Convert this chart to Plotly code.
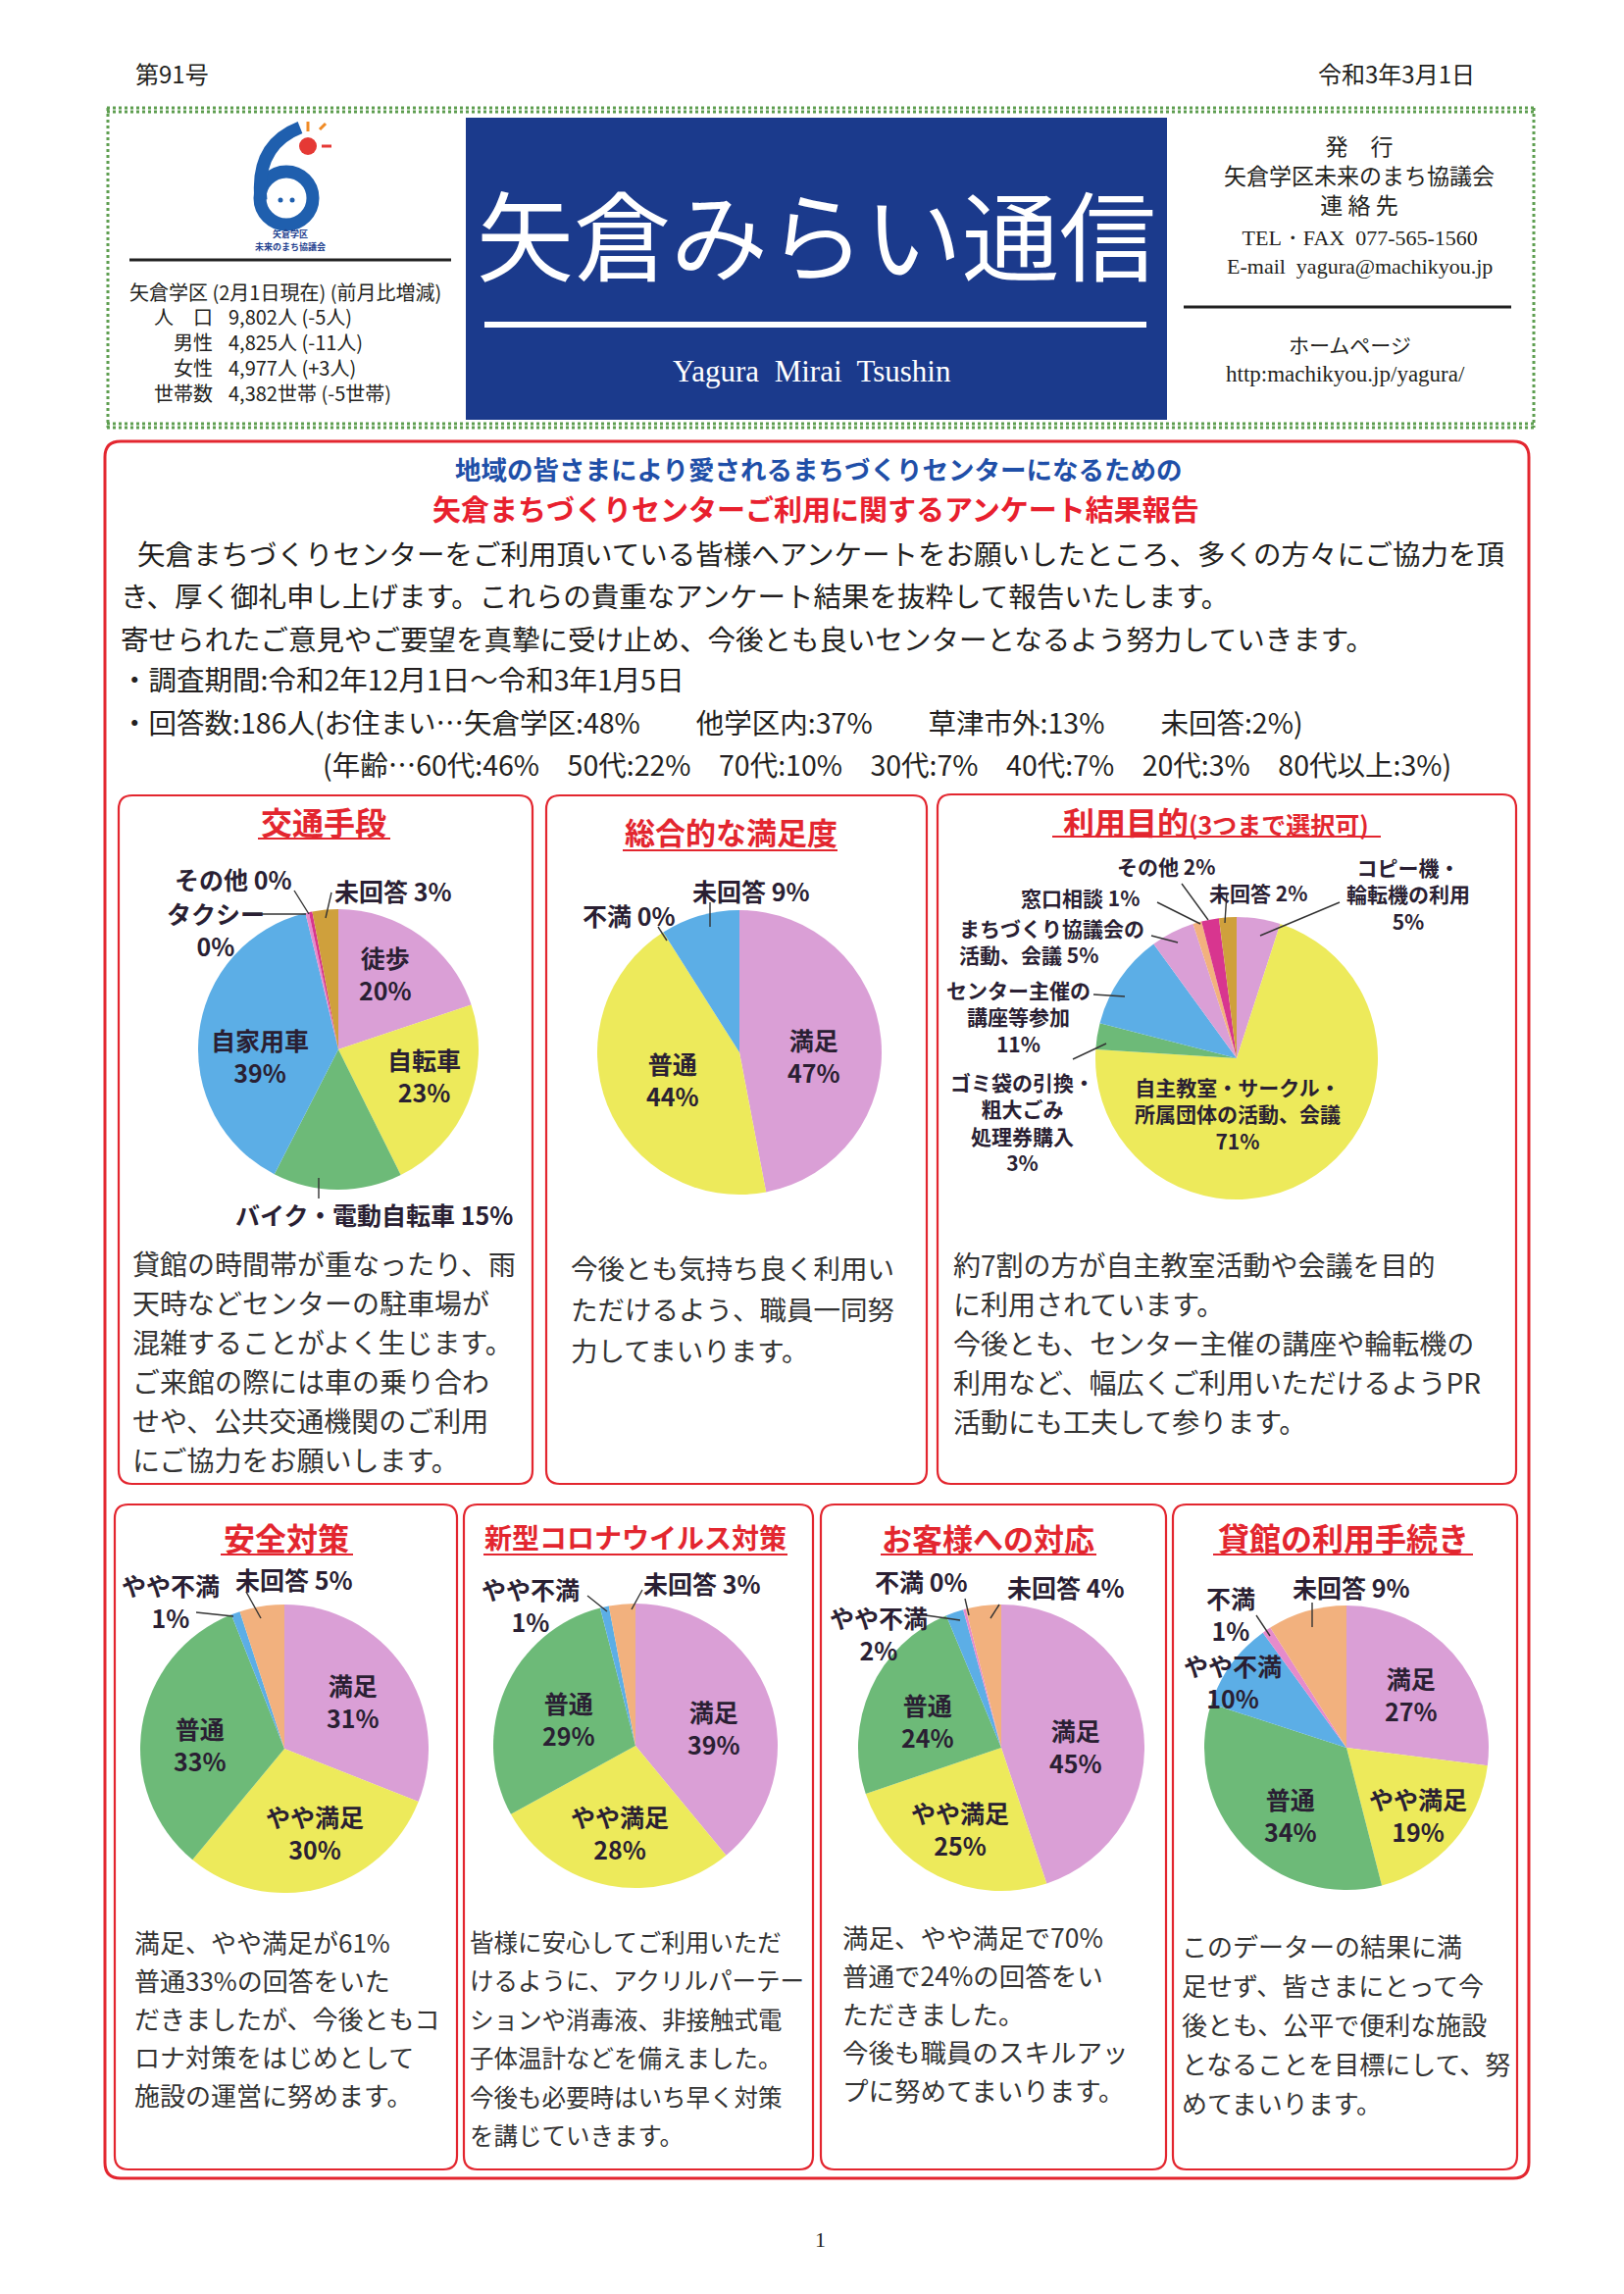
import plotly.graph_objects as go

W, H = 1656, 2339
FONT = "Noto Sans CJK JP"
SERIF = "Liberation Serif"
RED = "#E3262F"
NAVY = "#1B3A8C"
INK = "#231f20"
LBL = "#2a1f33"

PINK = "#DA9FD6"
YELLOW = "#EDEA5B"
GREEN = "#6DBA78"
BLUE = "#5CAEE6"
PEACH = "#F2B17E"
MAGENTA = "#D8358F"
GOLD = "#CFA03C"
LPINK = "#E58BCB"

# ---------------- data ----------------
transport_labels = ["徒歩", "自転車", "バイク・電動自転車", "自家用車", "タクシー", "その他", "未回答"]
transport_values = [20, 23, 15, 39, 0.4, 0.4, 3]
transport_colors = [PINK, YELLOW, GREEN, BLUE, LPINK, MAGENTA, GOLD]

overall_labels = ["満足", "普通", "不満", "未回答"]
overall_values = [47, 44, 0, 9]
overall_colors = [PINK, YELLOW, GREEN, BLUE]

purpose_labels = ["コピー機・\n輪転機の利用", "自主教室・サークル・\n所属団体の活動、会議",
                  "ゴミ袋の引換・\n粗大ごみ\n処理券購入", "センター主催の\n講座等参加",
                  "まちづくり協議会の\n活動、会議", "窓口相談", "その他", "未回答"]
purpose_values = [5, 71, 3, 11, 5, 1, 2, 2]
purpose_colors = [PINK, YELLOW, GREEN, BLUE, PINK, PEACH, MAGENTA, GOLD]

safety_labels = ["満足", "やや満足", "普通", "やや不満", "未回答"]
safety_values = [31, 30, 33, 1, 5]
safety_colors = [PINK, YELLOW, GREEN, BLUE, PEACH]

covid_labels = ["満足", "やや満足", "普通", "やや不満", "未回答"]
covid_values = [39, 28, 29, 1, 3]
covid_colors = [PINK, YELLOW, GREEN, BLUE, PEACH]

service_labels = ["満足", "やや満足", "普通", "やや不満", "不満", "未回答"]
service_values = [45, 25, 24, 2, 0.3, 4]
service_colors = [PINK, YELLOW, GREEN, BLUE, LPINK, PEACH]

rental_labels = ["満足", "やや満足", "普通", "やや不満", "不満", "未回答"]
rental_values = [27, 19, 34, 10, 1, 9]
rental_colors = [PINK, YELLOW, GREEN, BLUE, LPINK, PEACH]

stats_rows = ["人　口", "男性", "女性", "世帯数"]
stats_vals = ["9,802人 (-5人)", "4,825人 (-11人)", "4,977人 (+3人)", "4,382世帯 (-5世帯)"]

intro_lines = [
    "矢倉まちづくりセンターをご利用頂いている皆様へアンケートをお願いしたところ、多くの方々にご協力を頂",
    "き、厚く御礼申し上げます。これらの貴重なアンケート結果を抜粋して報告いたします。",
    "寄せられたご意見やご要望を真摯に受け止め、今後とも良いセンターとなるよう努力していきます。",
    "・調査期間:令和2年12月1日～令和3年1月5日",
    "・回答数:186人(お住まい…矢倉学区:48%　　他学区内:37%　　草津市外:13%　　未回答:2%)",
    "(年齢…60代:46%　50代:22%　70代:10%　30代:7%　40代:7%　20代:3%　80代以上:3%)",
]

body1 = ["貸館の時間帯が重なったり、雨", "天時などセンターの駐車場が", "混雑することがよく生じます。",
         "ご来館の際には車の乗り合わ", "せや、公共交通機関のご利用", "にご協力をお願いします。"]
body2 = ["今後とも気持ち良く利用い", "ただけるよう、職員一同努", "力してまいります。"]
body3 = ["約7割の方が自主教室活動や会議を目的", "に利用されています。", "今後とも、センター主催の講座や輪転機の",
         "利用など、幅広くご利用いただけるようPR", "活動にも工夫して参ります。"]
body4 = ["満足、やや満足が61%", "普通33%の回答をいた", "だきましたが、今後ともコ", "ロナ対策をはじめとして", "施設の運営に努めます。"]
body5 = ["皆様に安心してご利用いただ", "けるように、アクリルパーテー", "ションや消毒液、非接触式電",
         "子体温計などを備えました。", "今後も必要時はいち早く対策", "を講じていきます。"]
body6 = ["満足、やや満足で70%", "普通で24%の回答をい", "ただきました。", "今後も職員のスキルアッ", "プに努めてまいります。"]
body7 = ["このデーターの結果に満", "足せず、皆さまにとって今", "後とも、公平で便利な施設", "となることを目標にして、努", "めてまいります。"]

# ---------------- helpers ----------------
annotations = []
shapes = []


def P(x, y):
    return x / W, 1 - y / H


def txt(x, y, s, size, color=INK, anchor="center", bold=False, family=FONT):
    if bold:
        s = f"<b>{s}</b>"
    px_, py_ = P(x, y)
    annotations.append(dict(x=px_, y=py_, xref="paper", yref="paper", text=s, showarrow=False,
                            xanchor=anchor, yanchor="middle", borderpad=0,
                            align=anchor if anchor != "center" else "center",
                            font=dict(family=family, size=size, color=color)))


def line(x0, y0, x1, y1, color="#333", width=1.5, dash="solid"):
    a, b = P(x0, y0)
    c, d = P(x1, y1)
    shapes.append(dict(type="line", xref="paper", yref="paper", x0=a, y0=b, x1=c, y1=d,
                       line=dict(color=color, width=width, dash=dash)))


def rect(x0, y0, x1, y1, fill=None, color=None, width=0, dash="solid"):
    a, b = P(x0, y1)
    c, d = P(x1, y0)
    shapes.append(dict(type="rect", xref="paper", yref="paper", x0=a, y0=b, x1=c, y1=d,
                       fillcolor=fill if fill else "rgba(0,0,0,0)",
                       line=dict(color=color if color else "rgba(0,0,0,0)", width=width, dash=dash)))


def pt(x, y):
    a, b = P(x, y)
    return f"{a:.6f},{b:.6f}"


def rrect(x0, y0, x1, y1, r, color=RED, width=2.5):
    path = (f"M {pt(x0 + r, y0)} L {pt(x1 - r, y0)} Q {pt(x1, y0)} {pt(x1, y0 + r)} "
            f"L {pt(x1, y1 - r)} Q {pt(x1, y1)} {pt(x1 - r, y1)} L {pt(x0 + r, y1)} "
            f"Q {pt(x0, y1)} {pt(x0, y1 - r)} L {pt(x0, y0 + r)} Q {pt(x0, y0)} {pt(x0 + r, y0)} Z")
    shapes.append(dict(type="path", xref="paper", yref="paper", path=path,
                       line=dict(color=color, width=width), fillcolor="rgba(0,0,0,0)"))


def circle(cx, cy, r, fill=None, color=None, width=0):
    a, b = P(cx - r, cy + r)
    c, d = P(cx + r, cy - r)
    shapes.append(dict(type="circle", xref="paper", yref="paper", x0=a, y0=b, x1=c, y1=d,
                       fillcolor=fill if fill else "rgba(0,0,0,0)",
                       line=dict(color=color if color else "rgba(0,0,0,0)", width=width)))


fig = go.Figure()


def pie(labels, values, colors, cx, cy, r):
    fig.add_trace(go.Pie(
        labels=[l.replace("\n", "") for l in labels], values=values, sort=False,
        direction="clockwise", rotation=0, textinfo="none", hoverinfo="label+percent",
        marker=dict(colors=colors, line=dict(width=0)), showlegend=False,
        domain=dict(x=[(cx - r) / W, (cx + r) / W], y=[1 - (cy + r) / H, 1 - (cy - r) / H])))


def pie_labels(labels, values, spec, size=25):
    for lab, val, sp in zip(labels, values, spec):
        if sp is None:
            continue
        x, y, mode = sp[0], sp[1], sp[2]
        dy = sp[3] if len(sp) > 3 else size + 2
        anchor = sp[4] if len(sp) > 4 else "center"
        lines = lab.split("\n")
        pct = f"{round(val)}%"
        if mode == "i":
            lines[-1] = lines[-1] + " " + pct
        else:
            lines.append(pct)
        yc = y + (len(lines) - 1) * dy / 2
        txt(x, yc, "<br>".join(lines), size, color=LBL, anchor=anchor, bold=True)


# ---------------- page header ----------------
txt(167, 66, "第91号", 24)
txt(1416, 66, "令和3年3月1日", 24)

# green decorative border
for yy in (102, 106, 424, 428):
    line(101, yy, 1557, yy, color="#5E9E50", width=3, dash="dot")
line(102, 102, 102, 428, color="#5E9E50", width=3, dash="dot")
line(1556, 102, 1556, 428, color="#5E9E50", width=3, dash="dot")

# logo
circle(284, 194, 27, color="#1F5FAE", width=13)
shapes.append(dict(type="path", xref="paper", yref="paper",
                   path=f"M {pt(298, 122)} Q {pt(252, 140)} {pt(258, 196)}",
                   line=dict(color="#1F5FAE", width=13)))
circle(278, 196, 2.5, fill="#1F5FAE")
circle(290, 196, 2.5, fill="#1F5FAE")
circle(306, 141, 9, fill="#E53935")
line(306, 116, 306, 126, color="#F08A24", width=3)
line(318, 124, 324, 118, color="#F08A24", width=3)
line(320, 141, 330, 141, color="#E53935", width=3)
txt(288, 231, "<b>矢倉学区</b>", 9, color="#1F3F8F")
txt(288, 243, "<b>未来のまち協議会</b>", 9, color="#1F3F8F")
line(124, 257, 452, 257, color="#222", width=3)

txt(123, 289, "矢倉学区 (2月1日現在) (前月比増減)", 20, anchor="left")
txt(210, 353, "<br>".join(stats_rows), 20, anchor="right")
txt(224, 353, "<br>".join(stats_vals), 20, anchor="left")

# blue title block
rect(467, 112, 1182, 420, fill=NAVY)
txt(824, 228, "矢倉みらい通信", 99, color="white")
line(486, 323, 1161, 323, color="white", width=6)
txt(820, 370, "Yagura  Mirai  Tsushin", 31, color="white", family=SERIF)

# right block
txt(1378, 170, "発　行<br>矢倉学区未来のまち協議会<br>連 絡 先", 23)
txt(1378, 249, "TEL・FAX  077-565-1560<br>E-mail  yagura@machikyou.jp", 22, family=SERIF)
line(1199, 305, 1533, 305, color="#222", width=3)
txt(1368, 343, "ホームページ", 21)
txt(1364, 374, "http:machikyou.jp/yagura/", 23, family=SERIF)

# ---------------- main report ----------------
rrect(99, 442, 1551, 2213, 16, width=3)
txt(826, 469, "地域の皆さまにより愛されるまちづくりセンターになるための", 26.5, color="#1F4FA8", bold=True)
txt(824, 510, "矢倉まちづくりセンターご利用に関するアンケート結果報告", 29, color="#E8202E", bold=True)

intro_x = [131, 114, 114, 114, 114, 320]
intro_y = [555, 598, 642, 684, 727, 770]
for s, x, y in zip(intro_lines, intro_x, intro_y):
    txt(x, y, s, 28.5, anchor="left")

# panels
panels = [
    (113, 803, 535, 1505), (549, 803, 937, 1505), (948, 802, 1538, 1505),
    (109, 1526, 458, 2204), (465, 1526, 821, 2204), (829, 1526, 1181, 2204), (1188, 1526, 1539, 2204),
]
for p in panels:
    rrect(*p, 14, width=2.2)

titles = [
    ("交通手段", 322, 829, 32, 255, 390, 847),
    ("総合的な満足度", 737, 840, 31, 627, 846, 859),
    ("新型コロナウイルス対策", 640, 1559, 28, 485, 795, 1577),
    ("安全対策", 284, 1559, 32, 217, 352, 1577),
    ("お客様への対応", 999, 1559, 31, 890, 1110, 1577),
    ("貸館の利用手続き", 1362, 1559, 32, 1229, 1494, 1577),
]
for t, x, y, s, u0, u1, uy in titles:
    txt(x, y, t, s, color=RED, bold=True)
    line(u0, uy, u1, uy, color=RED, width=2.2)
txt(1232, 829, "利用目的<span style='font-size:25px'>(3つまで選択可)</span>", 32, color=RED, bold=True)
line(1065, 845, 1400, 845, color=RED, width=2.2)

# ---------------- pies ----------------
pie(transport_labels, transport_values, transport_colors, 337, 1062, 143)
pie(overall_labels, overall_values, overall_colors, 746, 1065, 145)
pie(purpose_labels, purpose_values, purpose_colors, 1253, 1071, 144)
pie(safety_labels, safety_values, safety_colors, 282, 1775, 147)
pie(covid_labels, covid_values, covid_colors, 640, 1772, 145)
pie(service_labels, service_values, service_colors, 1013, 1774, 146)
pie(rental_labels, rental_values, rental_colors, 1365, 1774, 145)

pie_labels(transport_labels, transport_values, [
    (385, 971, "s", 26), (425, 1072, "s", 34), (373, 1230, "i"), (257, 1056, "s", 26),
    (212, 925, "s", 28), (230, 888, "i"), (393, 900, "i")])
pie_labels(overall_labels, overall_values, [
    (822, 1056, "s", 26), (678, 1079, "s", 26), (633, 925, "i"), (758, 900, "i")])
pie_labels(purpose_labels, purpose_values, [
    (1428, 877, "s", 27), (1254, 1102, "s", 25), (1034, 1095, "s", 27), (1030, 1002, "s", 26),
    (969, 939, "i", 25, "left"), (1093, 907, "i"), (1181, 875, "i"), (1275, 902, "i")], size=21)
pie_labels(safety_labels, safety_values, [
    (352, 1713, "s", 27), (313, 1847, "s", 27), (196, 1758, "s", 25), (166, 1610, "s", 29), (292, 1602, "i")])
pie_labels(covid_labels, covid_values, [
    (720, 1740, "s", 27), (624, 1847, "s", 27), (572, 1731, "s", 27), (533, 1615, "s", 27), (708, 1606, "i")])
pie_labels(service_labels, service_values, [
    (1089, 1758, "s", 28), (971, 1843, "s", 26), (938, 1733, "s", 27), (888, 1644, "s", 26),
    (931, 1604, "i"), (1079, 1610, "i")])
pie_labels(rental_labels, rental_values, [
    (1431, 1706, "s", 27), (1438, 1829, "s", 27), (1308, 1829, "s", 27), (1249, 1693, "s", 27),
    (1247, 1624, "s", 27), (1370, 1610, "i")])

# leader lines
leaders = [
    (330, 902, 324, 928), (292, 900, 307, 924), (257, 924, 304, 924), (317, 1193, 317, 1214),
    (716, 912, 716, 937), (663, 937, 672, 951),
    (1358, 912, 1277, 946), (1243, 902, 1241, 933), (1197, 893, 1224, 930), (1172, 912, 1216, 934),
    (1166, 946, 1193, 953), (1107, 1006, 1139, 1008), (1086, 1072, 1120, 1056),
    (192, 1636, 230, 1640), (243, 1615, 258, 1642),
    (591, 1619, 611, 1635), (647, 1613, 636, 1633),
    (976, 1622, 980, 1639), (936, 1639, 971, 1644), (1011, 1628, 1002, 1642),
    (1273, 1639, 1287, 1660), (1330, 1626, 1330, 1651),
]
for l in leaders:
    line(*l, color="#333", width=1.4)

# ---------------- panel texts ----------------
def body(lines_, x, y0, dy, size):
    for i, s in enumerate(lines_):
        txt(x, y0 + i * dy, s, size, color="#333", anchor="left")


body(body1, 126, 1280, 40, 28)
body(body2, 573, 1284, 42, 27.5)
body(body3, 963, 1281, 40, 28)
body(body4, 128, 1971, 39, 26)
body(body5, 470, 1971, 39.5, 24.5)
body(body6, 850, 1966, 39, 26.5)
body(body7, 1196, 1975, 40, 26)

txt(828, 2275, "1", 22, family=SERIF)

fig.update_layout(width=W, height=H, margin=dict(l=0, r=0, t=0, b=0),
                  paper_bgcolor="white", plot_bgcolor="white",
                  annotations=annotations, shapes=shapes)
fig.write_html("out.html")
